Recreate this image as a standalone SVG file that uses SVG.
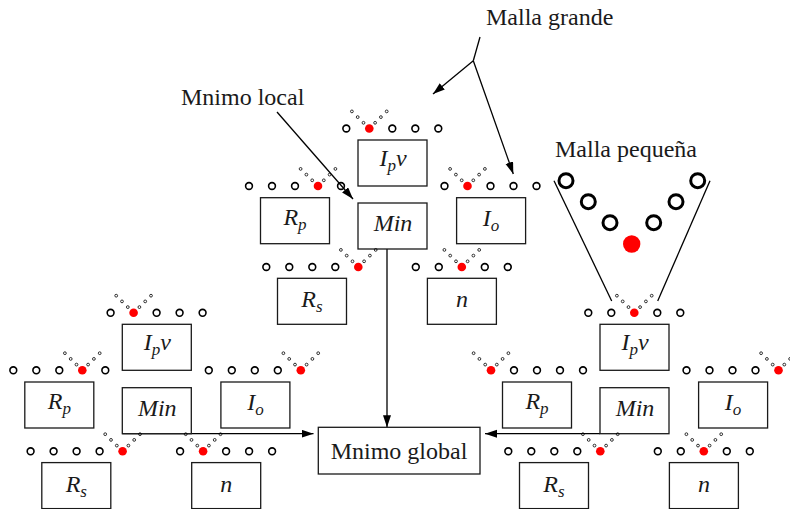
<svg xmlns="http://www.w3.org/2000/svg" width="790" height="509" viewBox="0 0 790 509">
<style>
.box{fill:#fff;stroke:#1a1a1a;stroke-width:1.3}
.lbl{font-family:'Liberation Serif','Times New Roman',serif;font-style:italic;font-size:24px;fill:#1a1a1a;text-anchor:middle}
.sub{font-size:17px}
.txt{font-family:'Liberation Serif','Times New Roman',serif;font-size:24px;fill:#1a1a1a}
.o{fill:none;stroke:#000;stroke-width:1.6}
.r{fill:#f00}
.s{fill:none;stroke:#000;stroke-width:0.8}
.ln{fill:none;stroke:#000;stroke-width:1.3}
.big{fill:none;stroke:#000;stroke-width:3}
</style>
<defs>
<marker id="ah" markerUnits="userSpaceOnUse" markerWidth="13" markerHeight="9" refX="12" refY="4" orient="auto">
<path d="M0,0 L12,4 L0,8 z" fill="#000"/>
</marker>
<g id="v">
<circle class="s" cx="-5.8" cy="-5.7" r="1.4"/><circle class="s" cx="-11.6" cy="-11.4" r="1.4"/><circle class="s" cx="-17.4" cy="-17.1" r="1.4"/>
<circle class="s" cx="5.8" cy="-5.7" r="1.4"/><circle class="s" cx="11.6" cy="-11.4" r="1.4"/><circle class="s" cx="17.4" cy="-17.1" r="1.4"/>
<circle class="r" cx="0" cy="0" r="4.3"/>
</g>
</defs>

<g id="connectors">
<line class="ln" x1="387" y1="249" x2="387" y2="427.3" marker-end="url(#ah)"/>
<line class="ln" x1="122.3" y1="433.7" x2="313.5" y2="433.7" marker-end="url(#ah)"/>
<line class="ln" x1="600" y1="433.7" x2="485" y2="433.7" marker-end="url(#ah)"/>
<line class="ln" x1="277" y1="112" x2="353" y2="199" marker-end="url(#ah)"/>
<polyline class="ln" points="480,37 473.3,60.7"/>
<line class="ln" x1="473.3" y1="60.7" x2="433" y2="94" marker-end="url(#ah)"/>
<line class="ln" x1="473.3" y1="60.7" x2="513.3" y2="174" marker-end="url(#ah)"/>
<line class="ln" x1="554" y1="180.7" x2="611.7" y2="301"/>
<line class="ln" x1="710" y1="180.7" x2="657.7" y2="301"/>
</g>

<g id="labels">
<text class="txt" x="486" y="25">Malla grande</text>
<text class="txt" x="181" y="105">Mnimo local</text>
<text class="txt" x="555" y="157">Malla pequeña</text>
</g>

<g id="malla-pequena">
<circle class="big" cx="566" cy="180.7" r="7"/>
<circle class="big" cx="588.3" cy="201.7" r="7"/>
<circle class="big" cx="610" cy="222.7" r="7"/>
<circle class="big" cx="697.7" cy="180.7" r="7"/>
<circle class="big" cx="676" cy="201.7" r="7"/>
<circle class="big" cx="653.7" cy="222.7" r="7"/>
<circle class="r" cx="631.7" cy="244" r="8.7"/>
</g>

<g id="minimo-global">
<rect class="box" x="318.3" y="427.3" width="161.7" height="46.7"/>
<text class="txt" x="399" y="458.5" text-anchor="middle">Mnimo global</text>
</g>

<!-- TOP CLUSTER -->
<g id="top-cluster">
<g id="top-ipv"><rect class="box" x="358" y="140" width="69" height="46"/><text class="lbl" x="393" y="166">I<tspan class="sub" dy="5">p</tspan><tspan dy="-5">v</tspan></text></g>
<g id="top-min"><rect class="box" x="358" y="203" width="69" height="46"/><text class="lbl" x="393" y="231">Min</text></g>
<g id="top-rp"><rect class="box" x="260.5" y="197.7" width="69" height="46"/><text class="lbl" x="295" y="224.7">R<tspan class="sub" dy="5">p</tspan></text></g>
<g id="top-io"><rect class="box" x="456.6" y="197.7" width="69" height="46"/><text class="lbl" x="491" y="225.7">I<tspan class="sub" dy="5">o</tspan></text></g>
<g id="top-rs"><rect class="box" x="277.5" y="278.3" width="69" height="46"/><text class="lbl" x="312" y="307">R<tspan class="sub" dy="5">s</tspan></text></g>
<g id="top-n"><rect class="box" x="427.4" y="278.3" width="69" height="46"/><text class="lbl" x="462" y="307">n</text></g>
<g id="top-dots">
<circle class="o" cx="346.3" cy="128.5" r="3.4"/><use href="#v" x="369.3" y="128.5"/><circle class="o" cx="392.3" cy="128.5" r="3.4"/><circle class="o" cx="415.3" cy="128.5" r="3.4"/><circle class="o" cx="438.3" cy="128.5" r="3.4"/>
<circle class="o" cx="249" cy="186" r="3.4"/><circle class="o" cx="272" cy="186" r="3.4"/><circle class="o" cx="295" cy="186" r="3.4"/><use href="#v" x="318" y="186"/><circle class="o" cx="341" cy="186" r="3.4"/>
<circle class="o" cx="444.5" cy="186" r="3.4"/><use href="#v" x="467.5" y="186"/><circle class="o" cx="490.5" cy="186" r="3.4"/><circle class="o" cx="513.5" cy="186" r="3.4"/><circle class="o" cx="536.5" cy="186" r="3.4"/>
<circle class="o" cx="266.3" cy="267" r="3.4"/><circle class="o" cx="289.3" cy="267" r="3.4"/><circle class="o" cx="312.3" cy="267" r="3.4"/><circle class="o" cx="335.3" cy="267" r="3.4"/><use href="#v" x="358.3" y="267"/>
<circle class="o" cx="415.8" cy="267" r="3.4"/><circle class="o" cx="438.8" cy="267" r="3.4"/><use href="#v" x="461.8" y="267"/><circle class="o" cx="484.8" cy="267" r="3.4"/><circle class="o" cx="507.8" cy="267" r="3.4"/>
</g>
</g>

<!-- LEFT CLUSTER -->
<g id="left-cluster">
<g id="left-ipv"><rect class="box" x="122.3" y="324.3" width="69" height="46"/><text class="lbl" x="157.3" y="350.3">I<tspan class="sub" dy="5">p</tspan><tspan dy="-5">v</tspan></text></g>
<g id="left-min"><rect class="box" x="122.3" y="387.7" width="69" height="46"/><text class="lbl" x="157.3" y="415.7">Min</text></g>
<g id="left-rp"><rect class="box" x="24.8" y="382" width="69" height="46"/><text class="lbl" x="59.3" y="409">R<tspan class="sub" dy="5">p</tspan></text></g>
<g id="left-io"><rect class="box" x="220.9" y="382" width="69" height="46"/><text class="lbl" x="255.4" y="410">I<tspan class="sub" dy="5">o</tspan></text></g>
<g id="left-rs"><rect class="box" x="41.8" y="462.6" width="69" height="46"/><text class="lbl" x="76.3" y="491.5">R<tspan class="sub" dy="5">s</tspan></text></g>
<g id="left-n"><rect class="box" x="191.7" y="462.6" width="69" height="46"/><text class="lbl" x="226.2" y="491.5">n</text></g>
<g id="left-dots">
<circle class="o" cx="110.6" cy="312.8" r="3.4"/><use href="#v" x="133.6" y="312.8"/><circle class="o" cx="156.6" cy="312.8" r="3.4"/><circle class="o" cx="179.6" cy="312.8" r="3.4"/><circle class="o" cx="202.6" cy="312.8" r="3.4"/>
<circle class="o" cx="13.3" cy="370.3" r="3.4"/><circle class="o" cx="36.3" cy="370.3" r="3.4"/><circle class="o" cx="59.3" cy="370.3" r="3.4"/><use href="#v" x="82.3" y="370.3"/><circle class="o" cx="105.3" cy="370.3" r="3.4"/>
<circle class="o" cx="208.8" cy="370.3" r="3.4"/><circle class="o" cx="231.8" cy="370.3" r="3.4"/><circle class="o" cx="254.8" cy="370.3" r="3.4"/><circle class="o" cx="277.8" cy="370.3" r="3.4"/><use href="#v" x="300.8" y="370.3"/>
<circle class="o" cx="30.6" cy="451.3" r="3.4"/><circle class="o" cx="53.6" cy="451.3" r="3.4"/><circle class="o" cx="76.6" cy="451.3" r="3.4"/><circle class="o" cx="99.6" cy="451.3" r="3.4"/><use href="#v" x="122.6" y="451.3"/>
<circle class="o" cx="180.1" cy="451.3" r="3.4"/><use href="#v" x="203.1" y="451.3"/><circle class="o" cx="226.1" cy="451.3" r="3.4"/><circle class="o" cx="249.1" cy="451.3" r="3.4"/><circle class="o" cx="272.1" cy="451.3" r="3.4"/>
</g>
</g>

<!-- RIGHT CLUSTER -->
<g id="right-cluster">
<g id="right-ipv"><rect class="box" x="600" y="324.3" width="69" height="46"/><text class="lbl" x="635" y="350.3">I<tspan class="sub" dy="5">p</tspan><tspan dy="-5">v</tspan></text></g>
<g id="right-min"><rect class="box" x="600" y="387.7" width="69" height="46"/><text class="lbl" x="635" y="415.7">Min</text></g>
<g id="right-rp"><rect class="box" x="502.5" y="382" width="69" height="46"/><text class="lbl" x="537" y="409">R<tspan class="sub" dy="5">p</tspan></text></g>
<g id="right-io"><rect class="box" x="698.6" y="382" width="69" height="46"/><text class="lbl" x="733.1" y="410">I<tspan class="sub" dy="5">o</tspan></text></g>
<g id="right-rs"><rect class="box" x="519.5" y="462.6" width="69" height="46"/><text class="lbl" x="554" y="491.5">R<tspan class="sub" dy="5">s</tspan></text></g>
<g id="right-n"><rect class="box" x="669.4" y="462.6" width="69" height="46"/><text class="lbl" x="703.9" y="491.5">n</text></g>
<g id="right-dots">
<circle class="o" cx="588.3" cy="312.8" r="3.4"/><circle class="o" cx="611.3" cy="312.8" r="3.4"/><use href="#v" x="634.3" y="312.8"/><circle class="o" cx="657.3" cy="312.8" r="3.4"/><circle class="o" cx="680.3" cy="312.8" r="3.4"/>
<use href="#v" x="491" y="370.3"/><circle class="o" cx="514" cy="370.3" r="3.4"/><circle class="o" cx="537" cy="370.3" r="3.4"/><circle class="o" cx="560" cy="370.3" r="3.4"/><circle class="o" cx="583" cy="370.3" r="3.4"/>
<circle class="o" cx="686.5" cy="370.3" r="3.4"/><circle class="o" cx="709.5" cy="370.3" r="3.4"/><circle class="o" cx="732.5" cy="370.3" r="3.4"/><circle class="o" cx="755.5" cy="370.3" r="3.4"/><use href="#v" x="778.5" y="370.3"/>
<circle class="o" cx="508.3" cy="451.3" r="3.4"/><circle class="o" cx="531.3" cy="451.3" r="3.4"/><circle class="o" cx="554.3" cy="451.3" r="3.4"/><circle class="o" cx="577.3" cy="451.3" r="3.4"/><use href="#v" x="600.3" y="451.3"/>
<circle class="o" cx="657.8" cy="451.3" r="3.4"/><circle class="o" cx="680.8" cy="451.3" r="3.4"/><use href="#v" x="703.8" y="451.3"/><circle class="o" cx="726.8" cy="451.3" r="3.4"/><circle class="o" cx="749.8" cy="451.3" r="3.4"/>
</g>
</g>
</svg>
